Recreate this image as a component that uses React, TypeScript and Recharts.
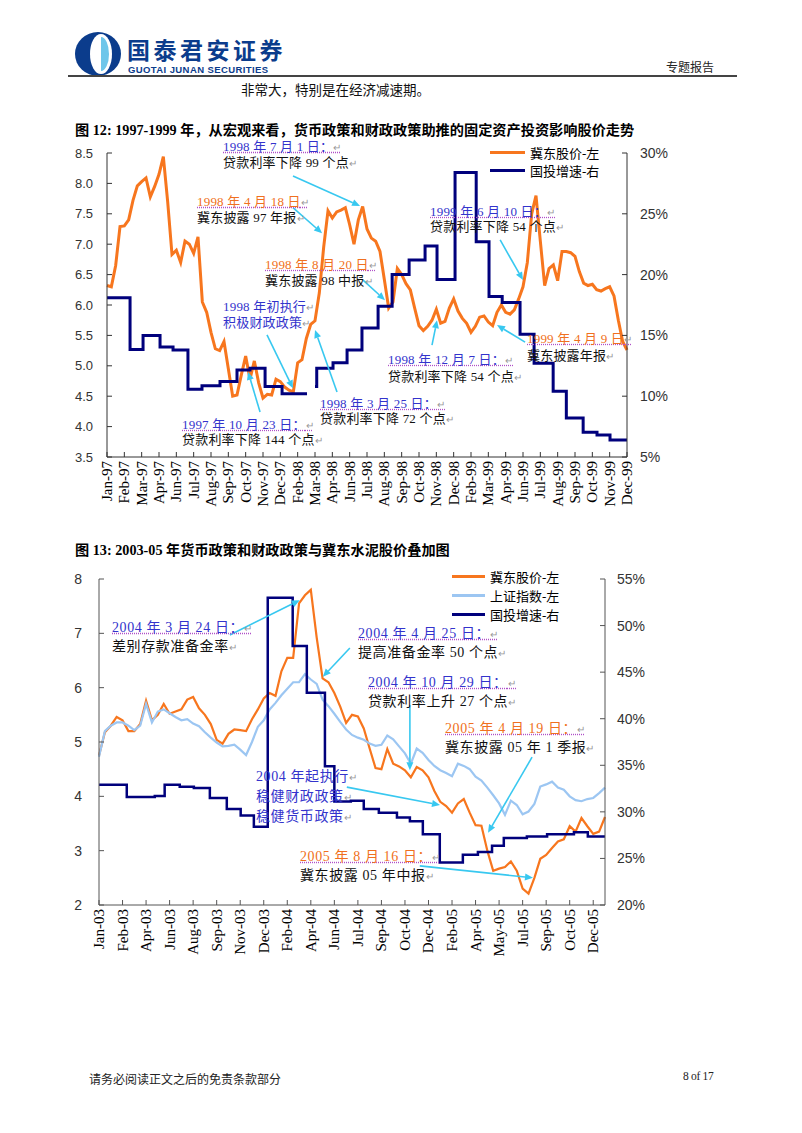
import React from 'react';
import { LineChart, Line, XAxis, YAxis, Legend, ReferenceLine } from 'recharts';

const SERIF = "'Liberation Serif', 'Noto Sans CJK SC', serif";
const SANS = "'Liberation Sans', Arial, sans-serif";
const CJK = "'Noto Sans CJK SC', sans-serif";
const CYAN = '#38C8F0';
const ORANGE = '#F7761E';
const NAVY = '#00007C';
const LIGHTBLUE = '#9CC6F2';

// ---------- 图 12 (1997-1999) ----------
const months97 = [
  'Jan-97', 'Feb-97', 'Mar-97', 'Apr-97', 'Jun-97', 'Jul-97', 'Aug-97', 'Sep-97', 'Oct-97', 'Nov-97',
  'Dec-97', 'Feb-98', 'Mar-98', 'Apr-98', 'Jun-98', 'Jul-98', 'Aug-98', 'Sep-98', 'Oct-98', 'Nov-98',
  'Dec-98', 'Feb-99', 'Mar-99', 'Apr-99', 'Jun-99', 'Jul-99', 'Aug-99', 'Sep-99', 'Oct-99', 'Nov-99', 'Dec-99',
];

// 冀东股价-左, four readings per tick interval
const jidong97 = [
  6.32, 6.3, 6.65, 7.29, 7.3, 7.4, 7.72, 7.96, 8.03, 8.09,
  7.78, 7.95, 8.15, 8.44, 7.7, 6.83, 6.9, 6.7, 7.05, 7.0,
  6.85, 7.12, 6.05, 5.88, 5.55, 5.28, 5.25, 5.4, 4.95, 4.5,
  4.52, 4.85, 5.16, 4.78, 5.08, 4.72, 4.47, 4.53, 4.52, 4.78,
  4.74, 4.65, 4.6, 4.57, 5.05, 5.1, 5.45, 5.68, 5.74, 6.2,
  6.95, 7.55, 7.43, 7.53, 7.56, 7.6, 7.32, 7.0, 7.4, 7.62,
  7.25, 7.1, 7.05, 6.88, 6.42, 5.95, 6.05, 6.6, 6.5, 6.35,
  6.25, 5.95, 5.66, 5.58, 5.65, 5.75, 5.93, 5.7, 5.73, 5.95,
  6.1, 5.9, 5.78, 5.7, 5.55, 5.65, 5.8, 5.82, 5.72, 5.66,
  5.88, 6.0, 5.88, 5.85, 5.92, 6.1, 6.3, 6.7, 7.5, 7.8,
  7.05, 6.32, 6.6, 6.66, 6.4, 6.88, 6.88, 6.86, 6.8, 6.55,
  6.36, 6.32, 6.34, 6.25, 6.23, 6.27, 6.3, 6.15, 5.75, 5.4,
  5.26,
];

// 国投增速-右 (%): [position on month axis, level from there on]; null = no data
const fai97: [number, number | null][] = [
  [0, 18.1], [1.33, 13.85], [2.08, 15.0], [3.06, 14.05], [3.81, 13.8], [4.67, 10.57],
  [5.48, 10.85], [6.52, 11.2], [7.5, 12.15], [8.25, 12.3], [9.12, 10.8], [10.1, 10.2],
  [11.54, 10.2], [11.8, null], [12.0, 10.8], [12.1, 12.3], [13.04, 12.75], [13.85, 13.8],
  [14.71, 15.6], [15.64, 17.4], [16.45, 20.0], [17.43, 21.2], [18.35, 22.35], [19.04, 19.6],
  [20.08, 28.4], [21.3, 22.7], [22.04, 18.2], [22.8, 17.7], [23.83, 15.1], [24.64, 12.7],
  [25.74, 10.4], [26.5, 8.2], [27.47, 7.04], [28.27, 6.8], [29.02, 6.4], [30, 6.4],
];

const arrows97 = [
  [10.73, 8.12, 14.6, 7.63],
  [10.73, 7.6, 12.41, 7.18],
  [14.77, 6.41, 16.04, 6.08],
  [9.23, 5.51, 10.73, 4.63],
  [13.27, 4.57, 12.0, 5.59],
  [8.83, 4.24, 8.14, 4.9],
  [18.75, 5.34, 19.04, 5.75],
  [24.12, 5.39, 22.5, 5.67],
  [22.68, 7.07, 24.0, 6.41],
];

type Note = { x: number; y: number; text: string; color: string; ul?: boolean };
const notes97: Note[] = [
  { x: 223, y: 147, text: '1998 年 7 月 1 日：', color: '#3333CC', ul: true },
  { x: 223, y: 163, text: '贷款利率下降 99 个点', color: '#111' },
  { x: 197, y: 202, text: '1998 年 4 月 18 日', color: '#F07020', ul: true },
  { x: 197, y: 218, text: '冀东披露 97 年报', color: '#111' },
  { x: 265, y: 265, text: '1998 年 8 月 20 日', color: '#F07020', ul: true },
  { x: 265, y: 281, text: '冀东披露 98 中报', color: '#111' },
  { x: 223, y: 307, text: '1998 年初执行', color: '#3333CC' },
  { x: 223, y: 323, text: '积极财政政策', color: '#3333CC' },
  { x: 320, y: 404, text: '1998 年 3 月 25 日：', color: '#3333CC', ul: true },
  { x: 320, y: 419, text: '贷款利率下降 72 个点', color: '#111' },
  { x: 182, y: 425, text: '1997 年 10 月 23 日：', color: '#3333CC', ul: true },
  { x: 182, y: 440, text: '贷款利率下降 144 个点', color: '#111' },
  { x: 388, y: 360, text: '1998 年 12 月 7 日：', color: '#3333CC', ul: true },
  { x: 388, y: 377, text: '贷款利率下降 54 个点', color: '#111' },
  { x: 527, y: 339, text: '1999 年 4 月 9 日', color: '#F07020', ul: true },
  { x: 527, y: 356, text: '冀东披露年报', color: '#111' },
  { x: 430, y: 212, text: '1999 年 6 月 10 日：', color: '#3333CC', ul: true },
  { x: 430, y: 227, text: '贷款利率下降 54 个点', color: '#111' },
];

// ---------- 图 13 (2003-2005) ----------
const months03 = [
  'Jan-03', 'Feb-03', 'Apr-03', 'Jun-03', 'Aug-03', 'Sep-03', 'Nov-03', 'Dec-03', 'Feb-04', 'Apr-04',
  'Jun-04', 'Jul-04', 'Sep-04', 'Oct-04', 'Dec-04', 'Feb-05', 'Apr-05', 'May-05', 'Jul-05', 'Sep-05',
  'Oct-05', 'Dec-05',
];

const jidong03 = [
  4.75, 5.18, 5.3, 5.46, 5.4, 5.2, 5.2, 5.33, 5.76, 5.4,
  5.5, 5.7, 5.52, 5.56, 5.6, 5.78, 5.83, 5.62, 5.5, 5.33,
  5.04, 4.97, 5.15, 5.23, 5.22, 5.2, 5.42, 5.6, 5.8, 5.9,
  5.85, 6.3, 6.55, 6.55, 7.55, 7.7, 7.8, 6.92, 6.17, 6.1,
  5.9, 5.65, 5.35, 5.5, 5.47, 5.25, 4.88, 4.52, 4.5, 4.87,
  4.6, 4.55, 4.48, 4.35, 4.54, 4.48, 4.35, 4.1, 3.9, 3.82,
  3.7, 3.87, 3.95, 3.7, 3.47, 3.46, 3.0, 2.63, 2.67, 2.7,
  2.8, 2.63, 2.3, 2.21, 2.5, 2.85, 2.92, 3.05, 3.17, 3.21,
  3.45, 3.35, 3.6, 3.45, 3.31, 3.35, 3.62,
];

const shIndex03 = [
  4.73, 5.2, 5.3, 5.36, 5.36, 5.3, 5.22, 5.3, 5.7, 5.36,
  5.56, 5.6, 5.53, 5.46, 5.4, 5.42, 5.34, 5.29, 5.18, 5.08,
  4.99, 4.92, 4.93, 4.95, 4.86, 4.76, 5.0, 5.28, 5.4, 5.6,
  5.72, 5.86, 5.98, 6.1, 6.1, 6.25, 6.15, 6.07, 5.78, 5.66,
  5.52, 5.37, 5.23, 5.13, 5.08, 5.04, 4.97, 4.93, 4.95, 5.12,
  5.05, 4.92, 4.79, 4.6, 4.88, 4.8, 4.67, 4.56, 4.48, 4.43,
  4.37, 4.6, 4.56, 4.5, 4.36, 4.29, 4.16, 4.02, 3.87, 3.66,
  3.92, 3.84, 3.67, 3.72, 3.86, 4.18, 4.22, 4.27, 4.16, 4.12,
  4.0, 3.93, 3.91, 3.95, 3.97, 4.06, 4.16,
];

const fai03: [number, number][] = [
  [0, 32.9], [1.18, 31.6], [2.37, 31.7], [2.79, 32.9], [3.43, 32.7], [4.03, 32.55],
  [4.71, 31.5], [5.43, 30.3], [6.02, 29.6], [6.58, 28.4], [7.17, 53.0], [8.23, 47.8],
  [8.83, 42.8], [9.6, 34.9], [10.0, 31.1], [10.7, 31.2], [11.25, 30.3], [11.89, 29.9],
  [12.66, 29.4], [13.21, 29.0], [13.76, 27.6], [14.48, 24.55], [15.46, 25.4], [16.1, 25.7],
  [16.7, 26.35], [17.2, 27.2], [18.18, 27.35], [19.04, 27.6], [20.18, 27.8], [20.77, 27.35],
  [21.5, 27.35],
];

const legendOrder03 = ['冀东股价-左', '上证指数-左', '国投增速-右'];

const arrows03 = [
  [5.56, 6.97, 8.53, 7.61],
  [10.66, 6.73, 9.51, 6.2],
  [13.21, 5.68, 13.21, 4.48],
  [18.4, 4.72, 16.53, 3.33],
  [10.53, 4.17, 14.49, 3.84],
  [13.63, 2.72, 18.44, 2.5],
];

const notes03: Note[] = [
  { x: 112, y: 628, text: '2004 年 3 月 24 日：', color: '#3333CC', ul: true },
  { x: 112, y: 647, text: '差别存款准备金率', color: '#111' },
  { x: 358, y: 634, text: '2004 年 4 月 25 日：', color: '#3333CC', ul: true },
  { x: 358, y: 653, text: '提高准备金率 50 个点', color: '#111' },
  { x: 368, y: 683, text: '2004 年 10 月 29 日：', color: '#3333CC', ul: true },
  { x: 368, y: 702, text: '贷款利率上升 27 个点', color: '#111' },
  { x: 445, y: 729, text: '2005 年 4 月 19 日：', color: '#F07020', ul: true },
  { x: 445, y: 748, text: '冀东披露 05 年 1 季报', color: '#111' },
  { x: 256, y: 777, text: '2004 年起执行', color: '#3333CC' },
  { x: 256, y: 797, text: '稳健财政政策', color: '#3333CC' },
  { x: 256, y: 817, text: '稳健货币政策', color: '#3333CC' },
  { x: 300, y: 857, text: '2005 年 8 月 16 日：', color: '#F07020', ul: true },
  { x: 300, y: 876, text: '冀东披露 05 年中报', color: '#111' },
];

const STEP = 0.25;

const price97 = jidong97.map((v, i) => ({ t: i * STEP, v }));
const faiData97 = fai97.map(([t, v]) => ({ t, v }));
const price03 = jidong03.map((v, i) => ({ t: i * STEP, v }));
const index03 = shIndex03.map((v, i) => ({ t: i * STEP, v }));
const faiData03 = fai03.map(([t, v]) => ({ t, v }));

function ArrowShape(props: any) {
  const { x1, y1, x2, y2 } = props;
  const a = Math.atan2(y2 - y1, x2 - x1);
  const len = 8;
  const w = 3.5;
  const bx = x2 - len * Math.cos(a);
  const by = y2 - len * Math.sin(a);
  const pts = `${x2},${y2} ${bx + w * Math.sin(a)},${by - w * Math.cos(a)} ${bx - w * Math.sin(a)},${by + w * Math.cos(a)}`;
  return (
    <g>
      <line x1={x1} y1={y1} x2={bx} y2={by} stroke={CYAN} strokeWidth={1.6} />
      <polygon points={pts} fill={CYAN} />
    </g>
  );
}

const monthTick = (labels: string[]) => (props: any) => {
  const { x, y, payload } = props;
  return (
    <text
      x={x}
      y={y}
      dy={5}
      transform={`rotate(-90 ${x} ${y})`}
      textAnchor="end"
      fontFamily={SERIF}
      fontSize={15}
      fill="#000"
    >
      {labels[payload.value]}
    </text>
  );
};

const legendContent = (rowH: number, lineW: number) => (props: any) => (
  <div>
    {(props.payload || []).map((p: any) => (
      <div key={p.value} style={{ display: 'flex', alignItems: 'center', height: rowH }}>
        <span style={{ display: 'inline-block', width: lineW, height: 3, background: p.color, marginRight: 5 }} />
        <span style={{ fontFamily: SERIF, fontSize: 13, color: '#000', whiteSpace: 'nowrap' }}>{p.value}</span>
      </div>
    ))}
  </div>
);

function NoteText({ n, size }: { n: Note; size: number }) {
  return (
    <div
      style={{
        position: 'absolute',
        left: n.x,
        top: n.y - 9,
        lineHeight: '18px',
        fontSize: size,
        fontFamily: SERIF,
        color: n.color,
        whiteSpace: 'nowrap',
        letterSpacing: size > 13 ? 0.6 : 0.2,
        textDecorationLine: n.ul ? 'underline' : 'none',
        textDecorationStyle: 'dotted',
        textDecorationColor: '#B050C8',
      }}
    >
      {n.text}
      <span style={{ color: '#999', fontSize: 10, textDecoration: 'none' }}>↵</span>
    </div>
  );
}

const range = (n: number) => Array.from({ length: n }, (_, i) => i);

export default function App() {
  return (
    <div style={{ position: 'absolute', left: 0, top: 0, width: 802, height: 1133, background: '#fff', overflow: 'hidden' }}>
      {/* header */}
      <svg style={{ position: 'absolute', left: 74, top: 31 }} width={48} height={46}>
        <ellipse cx={24} cy={23} rx={23} ry={22} fill="#0B3C8C" />
        <ellipse cx={27} cy={23} rx={11} ry={20} fill="#fff" />
        <path d="M27,6 A8,17 0 0,1 27,40 Z" fill="#6EC6EA" />
      </svg>
      <div style={{ position: 'absolute', left: 127, top: 37, height: 24, lineHeight: '24px', fontFamily: CJK, fontWeight: 700, fontSize: 23, color: '#0B3C8C', letterSpacing: 3.5, whiteSpace: 'nowrap' }}>
        国泰君安证券
      </div>
      <div style={{ position: 'absolute', left: 128, top: 65, height: 9, lineHeight: '9px', fontFamily: SANS, fontWeight: 700, fontSize: 9.5, color: '#0B3C8C', letterSpacing: 0.4, whiteSpace: 'nowrap' }}>
        GUOTAI JUNAN SECURITIES
      </div>
      <div style={{ position: 'absolute', left: 666, top: 61, lineHeight: '14px', fontFamily: SERIF, fontSize: 12, color: '#222' }}>专题报告</div>
      <div style={{ position: 'absolute', left: 68, top: 75, width: 669, height: 2, background: '#444' }} />
      <div style={{ position: 'absolute', left: 241, top: 79, fontFamily: SERIF, fontSize: 13.5, color: '#111' }}>
        非常大，特别是在经济减速期。
      </div>

      {/* 图 12 */}
      <div style={{ position: 'absolute', left: 75, top: 119, fontFamily: SERIF, fontWeight: 700, fontSize: 14.2, color: '#000', whiteSpace: 'nowrap' }}>
        图 12: 1997-1999 年，从宏观来看，货币政策和财政政策助推的固定资产投资影响股价走势
      </div>
      <div style={{ position: 'absolute', left: 0, top: 140 }}>
        <LineChart width={802} height={390} margin={{ top: 13, right: 125, bottom: 13, left: 57 }}>
          <XAxis
            dataKey="t"
            type="number"
            domain={[0, 30]}
            ticks={range(months97.length)}
            interval={0}
            tick={monthTick(months97)}
            tickSize={-5}
            tickMargin={9}
            height={60}
            stroke="#333"
          />
          <YAxis
            yAxisId="left"
            domain={[3.5, 8.5]}
            ticks={[3.5, 4, 4.5, 5, 5.5, 6, 6.5, 7, 7.5, 8, 8.5]}
            tickFormatter={(v: number) => v.toFixed(1)}
            tick={{ fontFamily: SANS, fontSize: 13, fill: '#333' }}
            tickSize={-5}
            tickMargin={19}
            width={50}
            stroke="#333"
          />
          <YAxis
            yAxisId="right"
            orientation="right"
            domain={[5, 30]}
            ticks={[5, 10, 15, 20, 25, 30]}
            tickFormatter={(v: number) => `${v}%`}
            tick={{ fontFamily: SANS, fontSize: 14, fill: '#333' }}
            tickSize={-5}
            tickMargin={18}
            width={50}
            stroke="#333"
          />
          <Line yAxisId="left" data={price97} dataKey="v" name="冀东股价-左" stroke={ORANGE} strokeWidth={3} dot={false} isAnimationActive={false} />
          <Line yAxisId="right" data={faiData97} dataKey="v" name="国投增速-右" type="stepAfter" stroke={NAVY} strokeWidth={3} dot={false} isAnimationActive={false} />
          {arrows97.map((a, i) => (
            <ReferenceLine key={i} yAxisId="left" segment={[{ x: a[0], y: a[1] }, { x: a[2], y: a[3] }]} shape={ArrowShape} ifOverflow="visible" />
          ))}
          <Legend layout="vertical" align="center" verticalAlign="middle" wrapperStyle={{ left: 490, top: 3, width: 'auto' }} content={legendContent(18, 35)} />
        </LineChart>
      </div>
      {notes97.map((n, i) => <NoteText key={i} n={n} size={13} />)}

      {/* 图 13 */}
      <div style={{ position: 'absolute', left: 75, top: 539, fontFamily: SERIF, fontWeight: 700, fontSize: 14.2, color: '#000', whiteSpace: 'nowrap' }}>
        图 13: 2003-05 年货币政策和财政政策与冀东水泥股价叠加图
      </div>
      <div style={{ position: 'absolute', left: 0, top: 560 }}>
        <LineChart width={802} height={420} margin={{ top: 19, right: 147, bottom: 15, left: 49 }}>
          <XAxis
            dataKey="t"
            type="number"
            domain={[0, 21.5]}
            ticks={range(months03.length)}
            interval={0}
            tick={monthTick(months03)}
            tickSize={-5}
            tickMargin={9}
            height={60}
            stroke="#555"
          />
          <YAxis
            yAxisId="left"
            domain={[2, 8]}
            ticks={[2, 3, 4, 5, 6, 7, 8]}
            tick={{ fontFamily: SANS, fontSize: 14, fill: '#333' }}
            tickSize={-5}
            tickMargin={22}
            width={50}
            stroke="#555"
          />
          <YAxis
            yAxisId="right"
            orientation="right"
            domain={[20, 55]}
            ticks={[20, 25, 30, 35, 40, 45, 50, 55]}
            tickFormatter={(v: number) => `${v}%`}
            tick={{ fontFamily: SANS, fontSize: 14, fill: '#333' }}
            tickSize={-5}
            tickMargin={17}
            width={50}
            stroke="#555"
          />
          <Line yAxisId="left" data={price03} dataKey="v" name="冀东股价-左" stroke={ORANGE} strokeWidth={2.2} dot={false} isAnimationActive={false} />
          <Line yAxisId="left" data={index03} dataKey="v" name="上证指数-左" stroke={LIGHTBLUE} strokeWidth={2.2} dot={false} isAnimationActive={false} />
          <Line yAxisId="right" data={faiData03} dataKey="v" name="国投增速-右" type="stepAfter" stroke={NAVY} strokeWidth={2.5} dot={false} isAnimationActive={false} />
          {arrows03.map((a, i) => (
            <ReferenceLine key={i} yAxisId="left" segment={[{ x: a[0], y: a[1] }, { x: a[2], y: a[3] }]} shape={ArrowShape} ifOverflow="visible" />
          ))}
          <Legend
            layout="vertical"
            align="center"
            verticalAlign="middle"
            itemSorter={(item: any) => legendOrder03.indexOf(item.value)}
            wrapperStyle={{ left: 452, top: 7, width: 'auto' }}
            content={legendContent(19, 33)}
          />
        </LineChart>
      </div>
      {notes03.map((n, i) => <NoteText key={i} n={n} size={14} />)}

      {/* footer */}
      <div style={{ position: 'absolute', left: 89, top: 1070, fontFamily: SERIF, fontSize: 12, color: '#222' }}>
        请务必阅读正文之后的免责条款部分
      </div>
      <div style={{ position: 'absolute', left: 683, top: 1070, fontFamily: SERIF, fontSize: 11.5, color: '#222', letterSpacing: -0.3 }}>8 of 17</div>
    </div>
  );
}
